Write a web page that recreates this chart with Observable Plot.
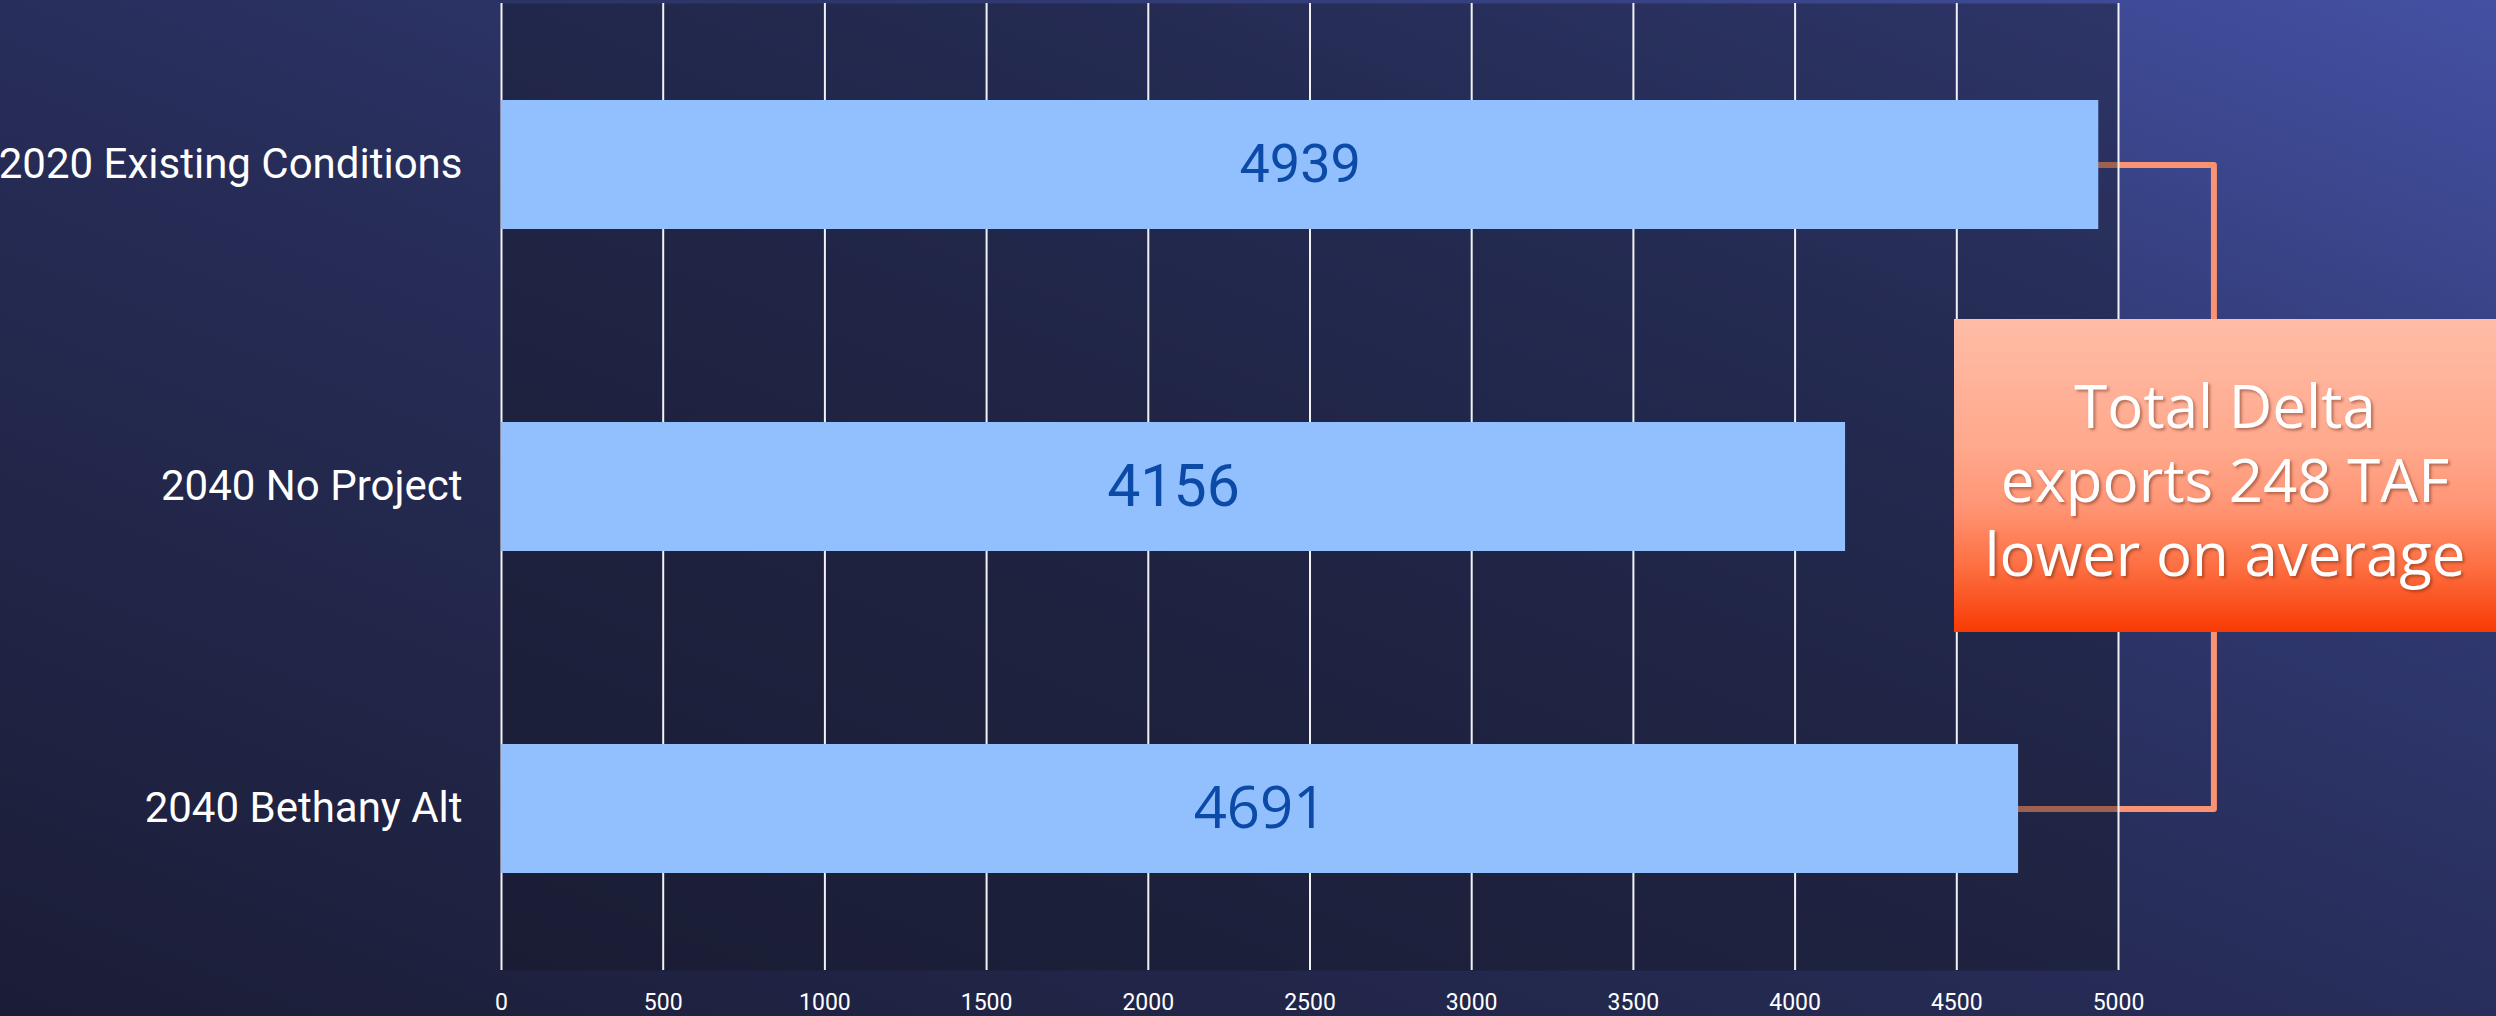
<!DOCTYPE html>
<html>
<head>
<meta charset="utf-8">
<script src="https://cdn.jsdelivr.net/npm/d3@7"></script>
<script src="https://cdn.jsdelivr.net/npm/@observablehq/plot@0.6"></script>
<style>
  html, body { margin: 0; padding: 0; }
  #wrap {
    position: relative;
    width: 2496px;
    height: 1016px;
    overflow: hidden;
    background: linear-gradient(to top right, #1b1d36 0%, #262c56 45%, #2f3870 70%, #4451a3 100%);
    font-family: Roboto, sans-serif;
  }
  #chart svg { display: block; }
  #callout {
    position: absolute;
    left: 1954px;
    top: 319px;
    width: 542px;
    height: 313px;
    background: linear-gradient(to bottom, #ffbca7 0%, #ffa98d 40%, #ff9575 60%, #fd6d3f 80%, #f83a04 100%);
    display: flex;
    align-items: center;
    justify-content: center;
    text-align: center;
    box-sizing: border-box;
    padding-top: 6px;
    font-family: "Open Sans", sans-serif;
    font-size: 60px;
    line-height: 74px;
    color: #ffffff;
    text-shadow: 2px 2px 3px rgba(90, 30, 10, 0.45);
  }
</style>
</head>
<body>
<div id="wrap">
  <div id="chart"></div>
  <div id="callout">Total Delta<br>exports 248 TAF<br>lower on average</div>
</div>
<script>
// ---- data ----
const categories = ["2020 Existing Conditions", "2040 No Project", "2040 Bethany Alt"];
const values = [4939, 4156, 4691];
const xTicks = [0, 500, 1000, 1500, 2000, 2500, 3000, 3500, 4000, 4500, 5000];
// bracket annotation joining the first and last bars (x in data units)
const bracketX = [4939, 5295, 5295, 4691];
const bracketCat = ["2020 Existing Conditions", "2020 Existing Conditions", "2040 Bethany Alt", "2040 Bethany Alt"];

const data = categories.map((c, i) => ({category: c, value: values[i]}));
const bracket = bracketX.map((x, i) => ({x, category: bracketCat[i]}));

const labelBase = {x: d => d.value / 2, y: "category", text: d => String(d.value), fill: "#0b4aa6"};

const chart = Plot.plot({
  width: 2496,
  height: 1016,
  marginLeft: 501,
  marginRight: 378,
  marginTop: 3,
  marginBottom: 46,
  style: {background: "transparent", color: "white", fontFamily: "Roboto, sans-serif", overflow: "visible"},
  x: {domain: [0, 5000]},
  y: {domain: categories, paddingInner: 0.6, paddingOuter: 0.3},
  marks: [
    Plot.line(bracket, {x: "x", y: "category", stroke: "#fa9371", strokeWidth: 6, strokeLinejoin: "round", strokeLinecap: "round"}),
    Plot.frame({fill: "rgb(20,22,35)", fillOpacity: 0.4, stroke: "none"}),
    Plot.ruleX(xTicks, {stroke: "#f2f2f6", strokeWidth: 2}),
    Plot.barX(data, {x: "value", y: "category", fill: "#92bffe"}),
    Plot.text(data, {...labelBase, filter: d => d.category === categories[0], fontSize: 54, fontFamily: "Roboto, sans-serif"}),
    Plot.text(data, {...labelBase, filter: d => d.category === categories[1], fontSize: 59, fontFamily: "Roboto, sans-serif"}),
    Plot.text(data, {...labelBase, filter: d => d.category === categories[2], fontSize: 58, fontFamily: "'Open Sans', sans-serif"}),
    Plot.axisX({ticks: xTicks, tickSize: 0, tickPadding: 23, tickFormat: "d", fontSize: 23, fill: "white", label: null}),
    Plot.axisY({tickSize: 0, tickPadding: 39, fontSize: 42, fill: "white", label: null})
  ]
});
document.getElementById("chart").appendChild(chart);
</script>
</body>
</html>
